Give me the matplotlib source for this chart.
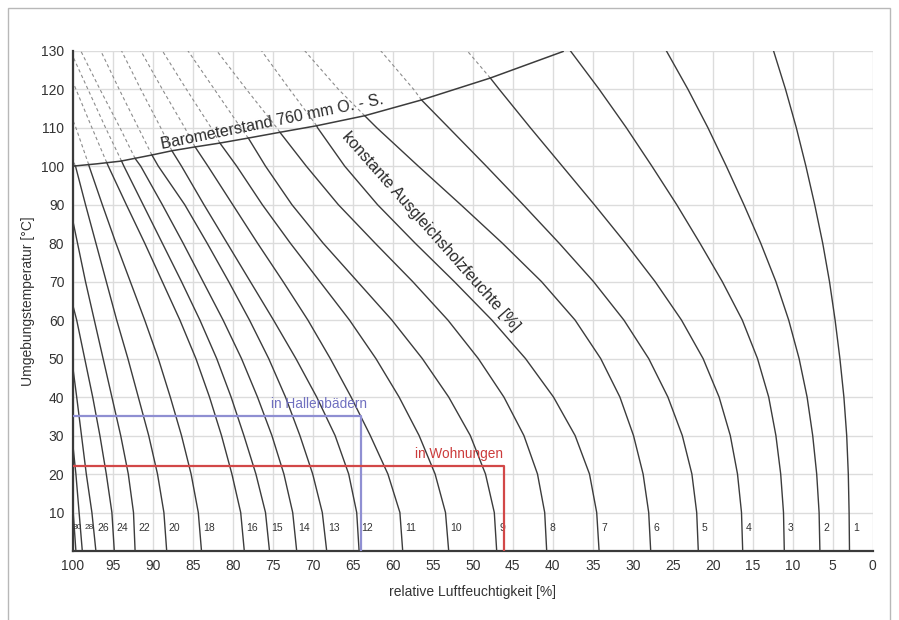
#!/usr/bin/env python3
"""
Ausgleichsholzfeuchte-Diagramm.
- x: relative Luftfeuchtigkeit (100 % links, 0 % rechts)
- y: Umgebungstemperatur
- Kurven konstanter Holzfeuchte, oberhalb der 760-mm-Linie gestrichelt.
"""

import matplotlib
matplotlib.use("Agg")
import matplotlib.pyplot as plt
from matplotlib.patches import Rectangle
import numpy as np

plt.rcParams["font.family"] = ["Liberation Sans", "DejaVu Sans"]

TEMPS = [0, 10, 20, 30, 40, 50, 60, 70, 80, 90, 100, 110, 120, 130]

# relative humidity (%) of each curve at TEMPS; None = curve already ran into the 100 % axis
rh_emc1 = [2.9, 2.95, 3.05, 3.25, 3.6, 4.1, 4.7, 5.4, 6.25, 7.25, 8.35, 9.55, 10.9, 12.4]
rh_emc2 = [6.6, 6.7, 7.0, 7.5, 8.2, 9.2, 10.5, 12.1, 14.0, 16.1, 18.3, 20.6, 23.1, 25.8]
rh_emc3 = [11.05, 11.15, 11.5, 12.1, 13.0, 14.4, 16.3, 18.8, 21.6, 24.5, 27.6, 30.8, 34.2, 37.8]
rh_emc4 = [16.25, 16.4, 16.9, 17.8, 19.2, 21.2, 23.9, 27.2, 30.9, 34.8, 38.8, 42.8, 46.7, 50.7]
rh_emc5 = [21.8, 22.0, 22.6, 23.8, 25.6, 28.0, 31.1, 34.9, 39.2, 43.7, 48.3, 53.0, 57.4, 61.5]
rh_emc6 = [27.75, 28.0, 28.7, 29.9, 31.6, 34.0, 37.2, 41.4, 46.3, 51.5, 56.8, 62.0, 66.8, 71.0]
rh_emc7 = [34.2, 34.5, 35.4, 37.2, 39.9, 43.4, 47.6, 52.3, 57.2, 61.9, 66.0, 69.4, 72.9, 76.4]
rh_emc8 = [40.75, 41.0, 41.9, 43.6, 46.1, 49.3, 53.1, 57.5, 62.2, 66.8, 70.8, 74.5, 78.3, 82.0]
rh_emc9 = [47.0, 47.3, 48.4, 50.3, 53.0, 56.3, 60.1, 64.4, 68.7, 72.6, 75.9, 79.0, 82.3, 85.6]
rh_emc10 = [53.0, 53.4, 54.7, 56.7, 59.2, 62.1, 65.4, 69.1, 72.8, 76.3, 79.5, 82.7, 85.8, 88.8]
rh_emc11 = [58.75, 59.1, 60.6, 62.8, 65.2, 67.8, 70.6, 73.7, 76.9, 80.0, 83.1, 86.0, 88.8, 91.5]
rh_emc12 = [64.2, 64.5, 65.5, 67.2, 69.5, 72.1, 74.9, 77.8, 80.7, 83.6, 86.4, 89.0, 91.5, 93.9]
rh_emc13 = [68.25, 68.8, 70.0, 71.6, 73.4, 75.5, 77.9, 80.5, 83.2, 86.0, 89.3, 91.8, 94.2, 96.5]
rh_emc14 = [72.0, 72.5, 73.6, 75.1, 76.9, 78.9, 81.2, 83.7, 86.2, 88.8, 91.5, 94.1, 96.6, 99.0]
rh_emc15 = [75.4, 75.9, 77.1, 78.6, 80.2, 82.0, 84.1, 86.4, 88.8, 91.2, 93.6, 95.9, 98.1, None]
rh_emc16 = [78.55, 79.0, 80.1, 81.4, 82.9, 84.6, 86.6, 88.8, 91.0, 93.3, 95.55, 97.6, 99.6, None]
rh_emc18 = [83.9, 84.3, 85.2, 86.4, 87.8, 89.3, 91.0, 92.8, 94.6, 96.3, 97.95, 99.6, None, None]
rh_emc20 = [88.25, 88.6, 89.4, 90.5, 91.8, 93.1, 94.5, 95.8, 97.1, 98.4, 99.65, None, None, None]
rh_emc22 = [92.2, 92.4, 93.05, 94.0, 95.1, 96.2, 97.3, 98.4, 99.4, None, None, None, None, None]
rh_emc24 = [94.8, 95.1, 95.8, 96.6, 97.5, 98.5, 99.5, None, None, None, None, None, None, None]
rh_emc26 = [97.1, 97.6, 98.3, 98.9, 99.5, None, None, None, None, None, None, None, None, None]
rh_emc28 = [98.8, 99.2, 99.6, None, None, None, None, None, None, None, None, None, None, None]
rh_emc30 = [99.6, None, None, None, None, None, None, None, None, None, None, None, None, None]

EMC_LEVELS = [1, 2, 3, 4, 5, 6, 7, 8, 9, 10, 11, 12, 13, 14, 15, 16, 18, 20, 22, 24, 26, 28, 30]

# where a curve meets the 760 mm line (deg C / %), None = stays below it
cross_t = [None, None, None, 122.9, 117.2, 113.1, 110.5, 108.8, 107.3, 106.0, 105.0, 104.0,
           102.9, 102.0, 101.35, 100.95, 100.4, 100.06, None, None, None, None, None]
cross_rh = [None, None, None, 47.8, 56.4, 63.5, 69.5, 74.1, 78.05, 81.6, 84.7, 87.6,
            90.1, 92.2, 93.9, 95.75, 98.0, 99.7, None, None, None, None, None]
# temperature where a curve runs into the 100 % axis
axis_hit_t = [None, None, None, None, None, None, None, None, None, None, None, None,
              None, None, 128.6, 122.0, 112.0, 102.5, 86.0, 64.0, 48.0, 28.0, 12.0]

# Barometerstand 760 mm line
baro_rh = [100, 97.0, 94.0, 90.1, 87.6, 84.7, 81.6, 78.05, 74.1, 69.5, 63.5, 56.4, 47.8, 38.7]
baro_t = [100, 100.6, 101.3, 102.9, 104.0, 105.0, 106.0, 107.3, 108.8, 110.5, 113.1, 117.2, 122.9, 129.8]

# the two marked climates (temperature, rel. humidity)
bath_t, bath_rh = 35, 64.0
flat_t, flat_rh = 22, 46.1

CURVE_COLOR = "#3c3c3c"
DASH_COLOR = "#8c8c8c"
BLUE = "#8f8fd2"
RED = "#d24848"


def curve_points(rh_row, hit_t):
    """Return arrays (t, rh) of one curve, closing it at the 100 % axis if needed."""
    t = [T for T, rh in zip(TEMPS, rh_row) if rh is not None]
    rh = [v for v in rh_row if v is not None]
    if hit_t is not None:
        t.append(hit_t)
        rh.append(100.0)
    return np.array(t, float), np.array(rh, float)


def draw_curves(ax):
    rows = [rh_emc1, rh_emc2, rh_emc3, rh_emc4, rh_emc5, rh_emc6, rh_emc7, rh_emc8,
            rh_emc9, rh_emc10, rh_emc11, rh_emc12, rh_emc13, rh_emc14, rh_emc15,
            rh_emc16, rh_emc18, rh_emc20, rh_emc22, rh_emc24, rh_emc26, rh_emc28, rh_emc30]
    for emc, row, ct, crh, hit in zip(EMC_LEVELS, rows, cross_t, cross_rh, axis_hit_t):
        t, rh = curve_points(row, hit)
        if ct is None:
            ax.plot(rh, t, color=CURVE_COLOR, lw=1.0, zorder=3)
        else:
            below = t < ct
            ax.plot(np.append(rh[below], crh), np.append(t[below], ct),
                    color=CURVE_COLOR, lw=1.0, zorder=3)
            above = t > ct
            ax.plot(np.insert(rh[above], 0, crh), np.insert(t[above], 0, ct),
                    color=DASH_COLOR, lw=0.8, dashes=(3, 2.5), zorder=2)

        # small label right of the curve near the bottom
        rh_lab = np.interp(6.0, t, rh)
        size = 6.0 if emc >= 28 else 7.5
        dx = -1.0 if emc == 30 else 2.8
        ax.annotate(str(emc), xy=(rh_lab, 6.0), xytext=(dx, 0), textcoords="offset points",
                    ha="left", va="center", fontsize=size, color="#333333", zorder=4)


def main():
    fig = plt.figure(figsize=(8.99, 6.20), dpi=100)
    ax = fig.add_axes([72.7 / 899, 69 / 620, 800 / 899, (551 - 50.7) / 620])

    ax.set_xlim(100, 0)
    ax.set_ylim(0, 130)
    ax.set_xticks(range(0, 101, 5))
    ax.set_yticks(range(10, 131, 10))
    ax.set_xticklabels([str(v) for v in range(0, 101, 5)])
    ax.grid(True, color="#dcdcdc", lw=1.0)
    ax.set_axisbelow(True)
    ax.tick_params(length=0, labelsize=10, colors="#333333", pad=6)
    for side in ("top", "right"):
        ax.spines[side].set_visible(False)
    for side in ("left", "bottom"):
        ax.spines[side].set_color("#3a3a3a")
        ax.spines[side].set_linewidth(1.6)

    draw_curves(ax)

    # Barometerstand line
    ax.plot(baro_rh, baro_t, color=CURVE_COLOR, lw=1.1, zorder=3)
    ax.text(75.0, 111.4, "Barometerstand 760 mm O. - S.", rotation=11.5,
            ha="center", va="center", fontsize=11.5, color="#2a2a2a", zorder=5)
    ax.text(55.2, 83.0, "konstante Ausgleichsholzfeuchte [%]", rotation=-48.5,
            ha="center", va="center", fontsize=11.5, color="#2a2a2a", zorder=5)

    # marked climates
    ax.plot([100, bath_rh, bath_rh], [bath_t, bath_t, 0], color=BLUE, lw=1.6, zorder=4)
    ax.text(bath_rh - 0.75, bath_t + 3.3, "in Hallenbädern", ha="right", va="center",
            fontsize=9.8, color="#7070c0", zorder=5)
    ax.plot([100, flat_rh, flat_rh], [flat_t, flat_t, 0], color=RED, lw=1.6, zorder=4)
    ax.text(flat_rh + 0.1, flat_t + 3.1, "in Wohnungen", ha="right", va="center",
            fontsize=9.8, color="#cc3c3c", zorder=5)

    fig.text(472.7 / 899, 1 - 592 / 620, "relative Luftfeuchtigkeit [%]",
             ha="center", va="center", fontsize=10, color="#333333")
    fig.text(28 / 899, 1 - 301 / 620, "Umgebungstemperatur [°C]", rotation=90,
             ha="center", va="center", fontsize=10, color="#333333")

    # thin frame round the picture
    fig.patches.append(Rectangle((8 / 899, -0.01), 882 / 899, 612 / 620 + 0.01,
                                 transform=fig.transFigure, fill=False,
                                 ec="#b8b8b8", lw=1.0))

    fig.savefig("out.png", dpi=100)


if __name__ == "__main__":
    main()
